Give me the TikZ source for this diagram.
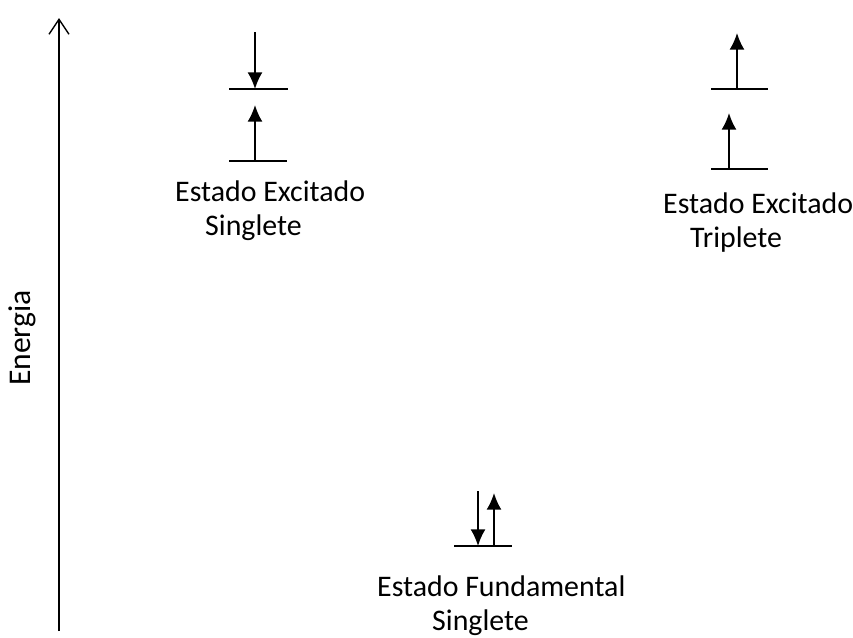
\documentclass[tikz,border=0pt]{standalone}
\usepackage{fontspec}
\setmainfont{Carlito}
\usetikzlibrary{arrows.meta}

\begin{document}
\begin{tikzpicture}[x=0.03cm, y=-0.03cm]
			\tikzstyle{level}  = [line width=1.5pt]
			\tikzstyle{spin}   = [line width=1.5pt, -{Latex[length=0.5cm, width=0.45cm]}]
			\tikzstyle{rotulo} = [align=left, inner sep=0pt, anchor=north west, font=\fontsize{25.5}{29}\selectfont]

			\useasboundingbox (0,0) rectangle (853,637);

			% eixo de energia
			\coordinate (eixo0) at (59,631);
			\coordinate (eixo1) at (59,18);
			\draw[line width=1.2pt, -{Straight Barb[length=0.45cm, width=0.6cm]}] (eixo0) -- (eixo1);
			\node[rotate=90, font=\fontsize{27}{30}\selectfont] (energia) at (22,338) {Energia};

			% niveis
			\foreach \name/\xa/\xb/\y in {s1/229/288/89, s0/229/287/161, t1/711/768/89, t0/711/768/169, f0/454/512/546}
			{
				\coordinate (\name a) at (\xa,\y);
				\coordinate (\name b) at (\xb,\y);
				\draw[level] (\name a) -- (\name b);
			}

			% spins
			\foreach \name/\x/\ya/\yb in {sd/255/32/89, su/255/161/105, ta/737/89/33, tb/729/169/113, fd/478/491/546, fu/494/546/493}
			{
				\coordinate (\name0) at (\x,\ya);
				\coordinate (\name1) at (\x,\yb);
				\draw[spin] (\name0) -- (\name1);
			}

			\node[rotulo] (singlete) at (175,181) {Estado Excitado\\\hspace*{0.9cm}Singlete};
			\node[rotulo] (triplete) at (663,193) {Estado Excitado\\\hspace*{0.81cm}Triplete};
			\node[rotulo] (fundamental) at (377,576) {Estado Fundamental\\\hspace*{1.65cm}Singlete};

		\end{tikzpicture}
\end{document}
